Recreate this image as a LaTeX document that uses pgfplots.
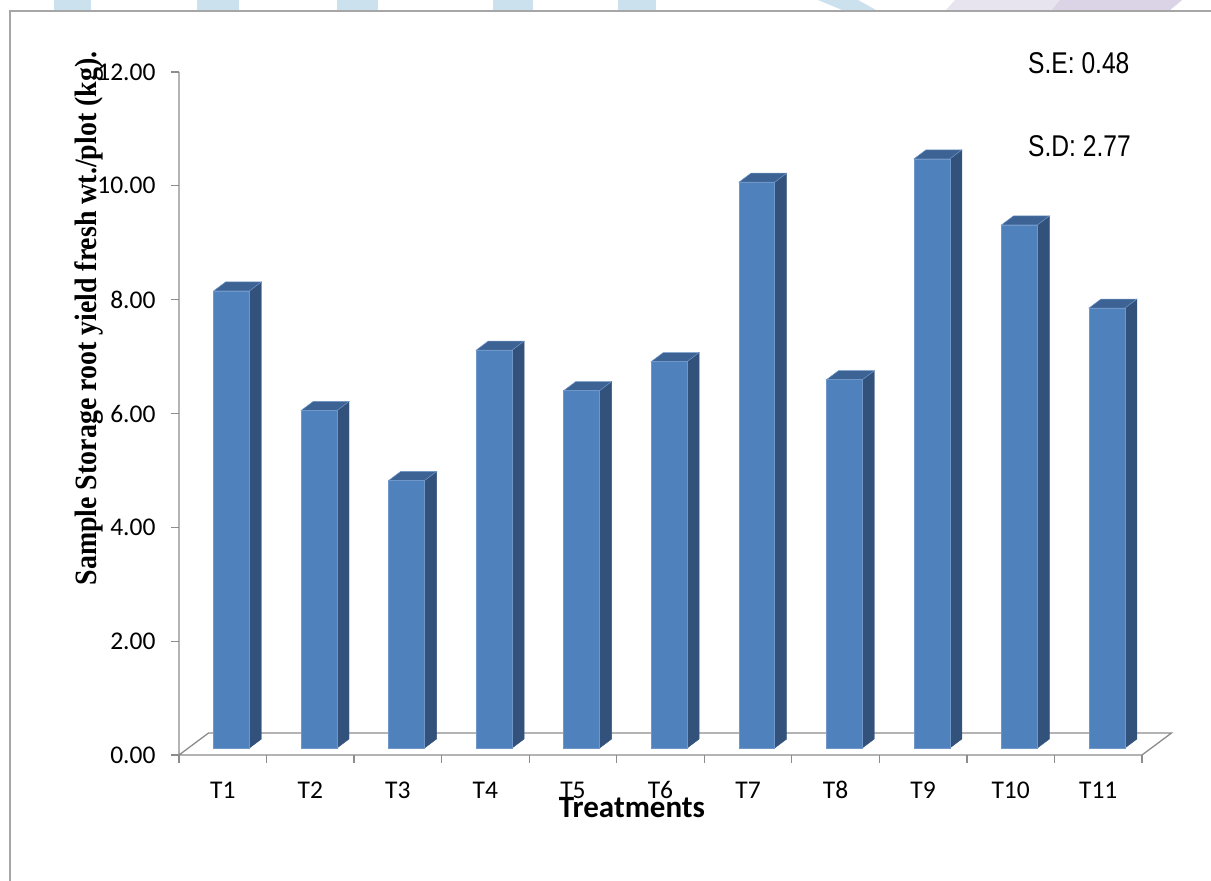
\documentclass[border=0pt]{standalone}
\usepackage{fontspec}
\setmainfont{Carlito}
\newfontfamily\serifbold{Liberation Serif}
\newfontfamily\statfont{Liberation Sans}
\usepackage{graphicx}
\usepackage{pgfplots}
\usepackage{pgfplotstable}
\pgfplotsset{compat=1.18}

\definecolor{barfront}{HTML}{4F81BD}
\definecolor{barside}{HTML}{32527C}
\definecolor{bartop}{HTML}{3C6393}
\definecolor{baredge}{HTML}{6F97CA}
\definecolor{axisgray}{HTML}{8C8C8C}
\definecolor{framegray}{HTML}{A6A6A6}
\definecolor{wmblue}{HTML}{CCE1EE}
\definecolor{wmlav}{HTML}{E8E4EF}
\definecolor{wmlavdark}{HTML}{DAD4E6}

% sample storage root yield, fresh weight per plot (kg)
\pgfplotstableread{
trt val
1 8.03
2 5.93
3 4.70
4 6.99
5 6.28
6 6.79
7 9.94
8 6.47
9 10.35
10 9.19
11 7.73
}\yielddata

% geometry of the 3-D look (axis units)
\def\barl{0.395}  % front face, left edge within a category
\def\barr{0.805}  % front face, right edge
\def\fy{0.123}    % front face raised above the floor's front edge
\def\dx{0.137}    % bar depth, x
\def\dy{0.158}    % bar depth, y

\begin{document}
\begin{tikzpicture}[x=1pt,y=1pt]
\path[use as bounding box] (0,0) rectangle (1211,881);

% page watermark strip
\fill[wmblue] (54,871) rectangle (91,881);
\fill[wmblue] (197,871) rectangle (239,881);
\fill[wmblue] (337,871) rectangle (378,881);
\fill[wmblue] (493,871) rectangle (533,881);
\fill[wmblue] (618,871) rectangle (656,881);
\fill[wmblue] (818,881) -- (858,881) -- (876,871) -- (842,871) -- cycle;
\fill[wmlav] (955,881) -- (1182,881) -- (1170,871) -- (946,871) -- cycle;
\fill[wmlavdark] (1060,881) -- (1182,881) -- (1170,871) -- (1052,871) -- cycle;

% chart frame
\draw[framegray, line width=1.5pt] (10,0) -- (10,870) -- (1211,870);

\begin{axis}[
  at={(179pt,126pt)}, anchor=south west,
  scale only axis, width=963pt, height=683pt,
  xmin=0, xmax=11, ymin=0, ymax=12,
  clip=false,
  axis lines=left,
  axis line style={draw=none},
  tick align=outside,
  major tick length=8pt,
  ytick={0,2,...,12},
  yticklabel={\pgfmathprintnumber[fixed,fixed zerofill,precision=2]{\tick}},
  ytick style={draw=axisgray, line width=1.3pt},
  yticklabel style={xshift=-12pt},
  xtick={0.5,1.5,...,10.5},
  xticklabels={T1,T2,T3,T4,T5,T6,T7,T8,T9,T10,T11},
  xtick style={draw=none},
  tick label style={font=\fontsize{25.5}{25.5}\selectfont},
  xticklabel style={anchor=base, yshift=-36pt},
  /pgf/number format/assume math mode=true,
]
% floor and value axis
\draw[axisgray, line width=1.3pt] (axis cs:0,12) -- (axis cs:0,0) -- (axis cs:11,0)
  -- (axis cs:11.337,0.386) -- (axis cs:0.337,0.386) -- (axis cs:0,0);
\pgfplotsinvokeforeach{0,...,11}{%
  \draw[axisgray, line width=1.3pt] (axis cs:#1,0) -- ++(0,-8pt);
}
% bars: front, side and top faces
\pgfplotsinvokeforeach{0,...,10}{%
  \pgfplotstablegetelem{#1}{val}\of\yielddata
  \let\bv\pgfplotsretval
  \pgfmathsetmacro\xa{#1+\barl}%
  \pgfmathsetmacro\xb{#1+\barr}%
  \pgfmathsetmacro\xc{#1+\barr+\dx}%
  \pgfmathsetmacro\xd{#1+\barl+\dx}%
  \pgfmathsetmacro\ya{\fy}%
  \pgfmathsetmacro\yb{\bv+\fy}%
  \pgfmathsetmacro\yc{\fy+\dy}%
  \pgfmathsetmacro\yd{\bv+\fy+\dy}%
  \edef\barcmd{%
    \noexpand\addplot[fill=barside, draw=barside, line width=0.4pt]
      coordinates {(\xb,\ya) (\xc,\yc) (\xc,\yd) (\xb,\yb)} -- cycle;
    \noexpand\addplot[fill=bartop, draw=baredge, line width=0.5pt]
      coordinates {(\xa,\yb) (\xb,\yb) (\xc,\yd) (\xd,\yd)} -- cycle;
    \noexpand\addplot[fill=barfront, draw=baredge, line width=0.6pt]
      coordinates {(\xa,\ya) (\xb,\ya) (\xb,\yb) (\xa,\yb)} -- cycle;
  }%
  \barcmd
}
\end{axis}

% axis titles
\node[rotate=90, anchor=base, inner sep=0pt, font=\serifbold\bfseries\fontsize{31}{31}\selectfont]
  at (96,562.5) {\scalebox{0.9}[1]{Sample Storage root yield fresh wt./plot (kg).}};
\node[anchor=base, font=\bfseries\fontsize{31}{31}\selectfont]
  at (632,63) {Treatments};

% summary statistics
\node[anchor=base west, inner sep=0pt, font=\statfont\fontsize{30}{30}\selectfont]
  at (1028,807) {\scalebox{0.82}[1]{S.E: 0.48}};
\node[anchor=base west, inner sep=0pt, font=\statfont\fontsize{30}{30}\selectfont]
  at (1028,724) {\scalebox{0.82}[1]{S.D: 2.77}};
\end{tikzpicture}
\end{document}
